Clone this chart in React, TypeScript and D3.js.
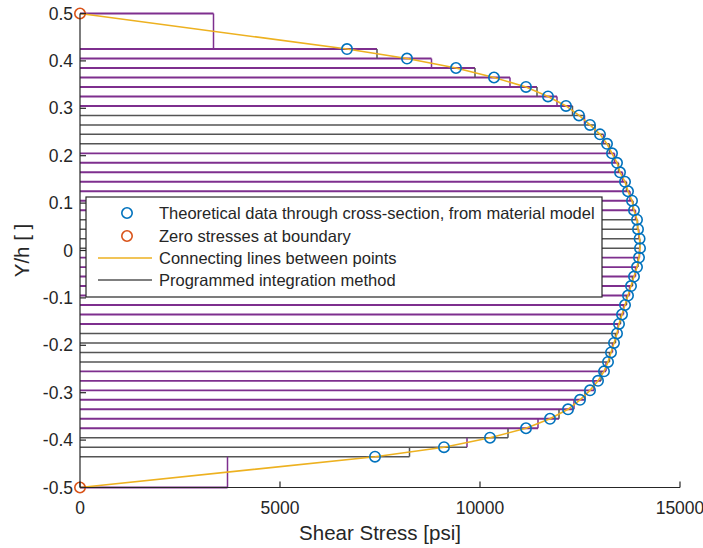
import * as d3 from 'd3';

// y/h positions of the theoretical points (top to bottom)
const yPoints = [
    0.425, 0.405, 0.385, 0.365, 0.345, 0.325, 0.305, 0.285, 0.265, 0.245, 0.225,
    0.205, 0.185, 0.165, 0.145, 0.125, 0.105, 0.085, 0.065, 0.045, 0.025, 0.005,
    -0.015, -0.035, -0.055, -0.075, -0.095, -0.115, -0.135, -0.155, -0.175, -0.195,
    -0.215, -0.235, -0.255, -0.275, -0.295, -0.315, -0.335, -0.355, -0.375, -0.395,
    -0.415, -0.435,
];

// shear stress [psi] from material model
const stressPoints = [
    6675, 8175, 9400, 10350, 11150, 11700, 12150, 12475, 12750, 13000, 13175,
    13300, 13425, 13500, 13625, 13700, 13800, 13850, 13925, 13950, 13990, 14000,
    13975, 13925, 13850, 13775, 13700, 13625, 13550, 13475, 13425, 13350,
    13275, 13200, 13100, 12950, 12750, 12500, 12200, 11750, 11150, 10250,
    9100, 7375,
];

// zero stress at the boundaries
const boundaryY = [0.5, -0.5];
const boundaryStress = [0, 0];

const xTicks = [0, 5000, 10000, 15000];
const yTicks = [0.5, 0.4, 0.3, 0.2, 0.1, 0, -0.1, -0.2, -0.3, -0.4, -0.5];

const legendLabels = [
    'Theoretical data through cross-section, from material model',
    'Zero stresses at boundary',
    'Connecting lines between points',
    'Programmed integration method',
];

// colour bands of the strip boundaries as they show in the picture (purple, grey, ...)
const boundaryBands = [8, 4, 7, 4, 8, 4, 7, 3, 1];

const BLUE = '#0072BD';
const RED = '#D95319';
const ORANGE = '#EDB120';
const PURPLE = '#7E2F8E';
const GREY = '#555555';
const AXIS = '#262626';
const FONT = '"Liberation Sans", Arial, Helvetica, sans-serif';

export default function App() {
    const width = 703;
    const height = 548;

    const x = d3.scaleLinear().domain([0, 15000]).range([80, 680]);
    const y = d3.scaleLinear().domain([-0.5, 0.5]).range([487.5, 13.5]);

    // full profile: boundary, points, boundary
    const profile = [
        { y: boundaryY[0], v: boundaryStress[0] },
        ...yPoints.map((yy, i) => ({ y: yy, v: stressPoints[i] })),
        { y: boundaryY[1], v: boundaryStress[1] },
    ];

    // integration strips (trapezoid average)
    const strips = d3.range(profile.length - 1).map(i => ({
        y0: profile[i].y,
        y1: profile[i + 1].y,
        w: (profile[i].v + profile[i + 1].v) / 2,
        color: i % 2 === 0 ? PURPLE : GREY,
    }));

    const boundaryColors: string[] = [];
    boundaryBands.forEach((n, bi) => {
        for (let k = 0; k < n; k++) boundaryColors.push(bi % 2 === 0 ? PURPLE : GREY);
    });

    const boundaries = profile.map((p, i) => {
        const wa = i > 0 ? strips[i - 1].w : 0;
        const wb = i < strips.length ? strips[i].w : 0;
        return { y: p.y, w: Math.max(wa, wb), color: boundaryColors[i] || PURPLE };
    });

    const line = d3.line<{ y: number; v: number }>()
        .x(d => x(d.v))
        .y(d => y(d.y));

    const legendX = 86;
    const legendY = 197;
    const legendW = 516;
    const legendH = 100;
    const rowY = [213, 236, 258, 280];

    return (
        <svg width={width} height={height} style={{ position: 'absolute', left: 0, top: 0, background: '#fff' }}>
            {/* integration strips */}
            <g fill="none">
                {boundaries.map((b, i) => (
                    <line key={'h' + i} x1={x(0)} x2={x(b.w)} y1={y(b.y)} y2={y(b.y)} stroke={b.color}
                        strokeWidth={b.color === PURPLE ? 1.9 : 1.5} />
                ))}
                {strips.map((s, i) => (
                    <line key={'v' + i} x1={x(s.w)} x2={x(s.w)} y1={y(s.y0)} y2={y(s.y1)} stroke={s.color}
                        strokeWidth={1.5} />
                ))}
            </g>

            {/* connecting line */}
            <path d={line(profile) || ''} fill="none" stroke={ORANGE} strokeWidth={1.6} />

            {/* theoretical points */}
            <g fill="none" stroke={BLUE} strokeWidth={1.6}>
                {yPoints.map((yy, i) => (
                    <circle key={i} cx={x(stressPoints[i])} cy={y(yy)} r={5.2} />
                ))}
            </g>
            <g fill="none" stroke={RED} strokeWidth={1.6}>
                {boundaryY.map((yy, i) => (
                    <circle key={i} cx={x(boundaryStress[i])} cy={y(yy)} r={5.2} />
                ))}
            </g>

            {/* axes */}
            <g stroke={AXIS} strokeWidth={1.2}>
                <line x1={x(0)} x2={x(0)} y1={y(0.5)} y2={y(-0.5)} />
                <line x1={x(0)} x2={x(15000)} y1={y(-0.5)} y2={y(-0.5)} />
                {xTicks.map(t => (
                    <line key={t} x1={x(t)} x2={x(t)} y1={y(-0.5)} y2={y(-0.5) - 6} />
                ))}
                {yTicks.map(t => (
                    <line key={t} x1={x(0)} x2={x(0) + 6} y1={y(t)} y2={y(t)} />
                ))}
            </g>
            <g fontFamily={FONT} fontSize={17.5} fill={AXIS}>
                {xTicks.map(t => (
                    <text key={t} x={x(t)} y={514} textAnchor="middle">{t}</text>
                ))}
                {yTicks.map(t => (
                    <text key={t} x={73} y={y(t)} dy="0.35em" textAnchor="end">{t}</text>
                ))}
            </g>
            <text x={380} y={540} textAnchor="middle" fontFamily={FONT} fontSize={20.5} fill={AXIS}>
                Shear Stress [psi]
            </text>
            <text transform={`translate(29,${y(0)}) rotate(-90)`} textAnchor="middle" fontFamily={FONT} fontSize={20.5} fill={AXIS}>
                Y/h [ ]
            </text>

            {/* legend */}
            <rect x={legendX} y={legendY} width={legendW} height={legendH} fill="#fff" stroke={AXIS} strokeWidth={1.2} />
            <circle cx={127} cy={rowY[0]} r={5.2} fill="none" stroke={BLUE} strokeWidth={1.6} />
            <circle cx={127} cy={rowY[1]} r={5.2} fill="none" stroke={RED} strokeWidth={1.6} />
            <line x1={98} x2={152} y1={rowY[2]} y2={rowY[2]} stroke={ORANGE} strokeWidth={1.6} />
            <line x1={98} x2={152} y1={rowY[3]} y2={rowY[3]} stroke={GREY} strokeWidth={1.6} />
            <g fontFamily={FONT} fontSize={16.5} fill={AXIS}>
                {legendLabels.map((l, i) => (
                    <text key={l} x={159} y={rowY[i]} dy="0.35em">{l}</text>
                ))}
            </g>
        </svg>
    );
}
